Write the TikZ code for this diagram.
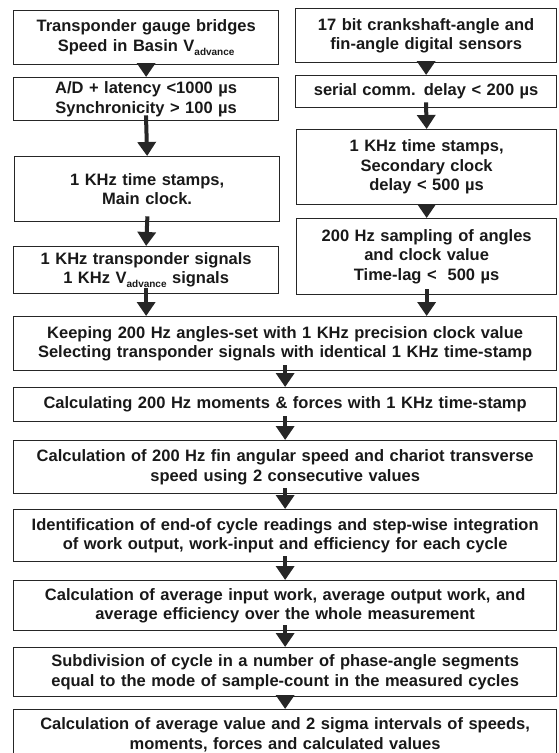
\documentclass[tikz,border=0pt]{standalone}
\usepackage{fontspec}
\setmainfont{Liberation Sans}
\usetikzlibrary{arrows.meta}
\newcommand{\adv}{\raisebox{-0.45ex}{\fontsize{10}{10}\selectfont advance}}
\tikzset{
  box/.style={draw=black!85, line width=1.3pt, inner sep=0pt, align=center, anchor=north west,
    font=\fontsize{16.5}{19.5}\selectfont\bfseries, text=black!90},
  flow/.style={line width=4pt, draw=black!85, -{Triangle[width=18pt,length=14pt]}, shorten <=-6pt}
}
\begin{document}
\begin{tikzpicture}[x=1pt,y=1pt]
\useasboundingbox (0,0) rectangle (559,-753);
% left column
\node[box, minimum width=265pt, minimum height=54pt, text width=263pt] (L1) at (13,-10) {Transponder gauge bridges\\Speed in Basin V\adv};
\node[box, minimum width=265pt, minimum height=43pt, text width=263pt] (L2) at (13,-77) {A/D + latency <1000 µs\\Synchronicity > 100 µs};
\node[box, minimum width=265pt, minimum height=65pt, text width=263pt] (L3) at (14,-156) {1 KHz time stamps,\\Main clock.};
\node[box, minimum width=265pt, minimum height=47pt, text width=263pt] (L4) at (13,-246) {1 KHz transponder signals\\1 KHz V\adv{} signals};
% right column
\node[box, minimum width=261pt, minimum height=54pt, text width=259pt] (R1) at (295,-8) {17 bit crankshaft-angle and\\fin-angle digital sensors};
\node[box, minimum width=261pt, minimum height=32pt, text width=259pt] (R2) at (295,-75) {serial comm. delay < 200 µs};
\node[box, minimum width=260pt, minimum height=75pt, text width=258pt] (R3) at (296,-129) {1 KHz time stamps,\\Secondary clock\\delay < 500 µs};
\node[box, minimum width=260pt, minimum height=76pt, text width=258pt] (R4) at (296,-218) {200 Hz sampling of angles\\and clock value\\Time-lag <~ 500 µs};
% wide boxes
\node[box, minimum width=543pt, minimum height=54pt, text width=541pt] (W1) at (13,-316) {Keeping 200 Hz angles-set with 1 KHz precision clock value\\Selecting transponder signals with identical 1 KHz time-stamp};
\node[box, minimum width=543pt, minimum height=34pt, text width=541pt] (W2) at (13,-387) {Calculating 200 Hz moments \& forces with 1 KHz time-stamp};
\node[box, minimum width=543pt, minimum height=53pt, text width=541pt] (W3) at (13,-440) {Calculation of 200 Hz fin angular speed and chariot transverse\\speed using 2 consecutive values};
\node[box, minimum width=543pt, minimum height=52pt, text width=541pt] (W4) at (13,-509) {Identification of end-of cycle readings and step-wise integration\\of work output, work-input and efficiency for each cycle};
\node[box, minimum width=543pt, minimum height=50pt, text width=541pt] (W5) at (13,-580) {Calculation of average input work, average output work, and\\average efficiency over the whole measurement};
\node[box, minimum width=543pt, minimum height=49pt, text width=541pt] (W6) at (13,-647) {Subdivision of cycle in a number of phase-angle segments\\equal to the mode of sample-count in the measured cycles};
\node[box, minimum width=543pt, minimum height=50pt, text width=541pt] (W7) at (13,-709) {Calculation of average value and 2 sigma intervals of speeds,\\moments, forces and calculated values};
% connectors
\draw[flow] (L1.south) -- (L2.north);
\draw[flow] (L2.south) -- (L3.north);
\draw[flow] (L3.south) -- (L4.north);
\draw[flow] (R1.south) -- (R2.north);
\draw[flow] (R2.south) -- (R3.north);
\draw[flow] (R3.south) -- (R4.north);
\draw[flow] (L4.south) -- (L4.south |- W1.north);
\draw[flow] (R4.south) -- (R4.south |- W1.north);
\draw[flow] (W1.south) -- (W2.north);
\draw[flow] (W2.south) -- (W3.north);
\draw[flow] (W3.south) -- (W4.north);
\draw[flow] (W4.south) -- (W5.north);
\draw[flow] (W5.south) -- (W6.north);
\draw[flow] (W6.south) -- (W7.north);
\end{tikzpicture}
\end{document}
